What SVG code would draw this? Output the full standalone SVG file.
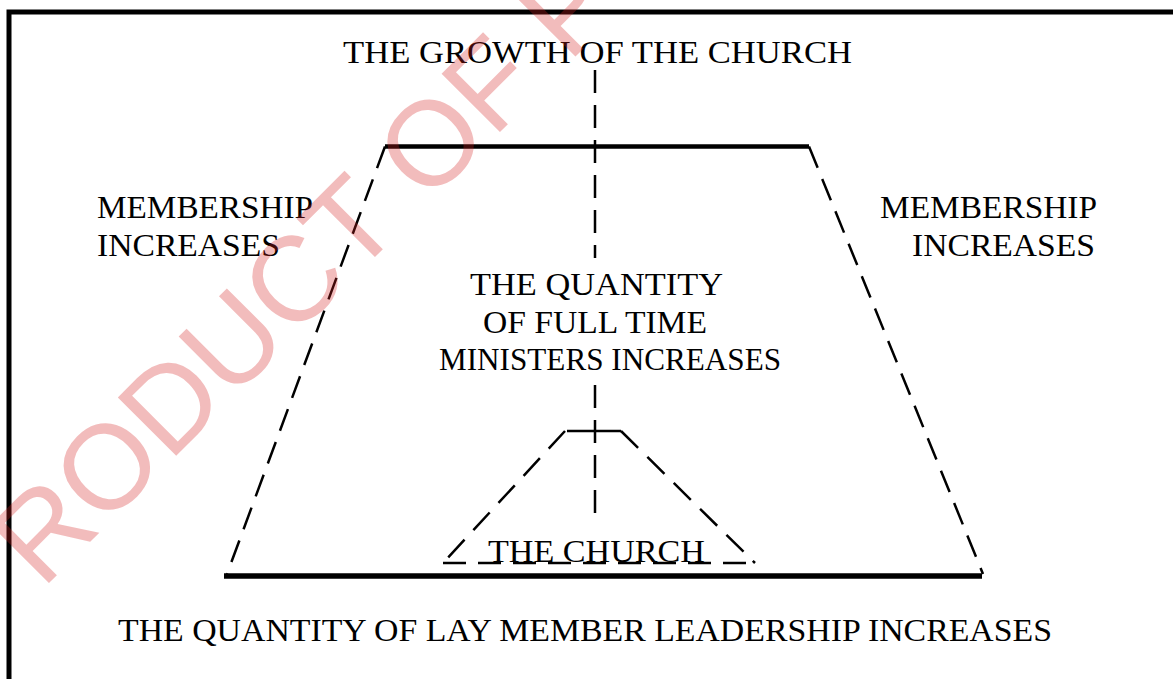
<svg xmlns="http://www.w3.org/2000/svg" width="1173" height="679" viewBox="0 0 1173 679">
<style>
.t{font-family:"Liberation Serif","Times New Roman",serif;font-size:32px;fill:#000}
.solid{stroke:#000;fill:none}
.dash{stroke:#000;stroke-width:2.5;fill:none;stroke-dasharray:23 12}
.wm{font-family:"Liberation Sans",Arial,sans-serif;font-size:120px;fill:#d42020;fill-opacity:0.3}
</style>
<rect width="1173" height="679" fill="#fff"/>
<g id="frame"><path class="solid" stroke-width="5" d="M9,679 V12 H1173"/></g>
<g id="connectors">
  <path class="dash" d="M595,70 V258"/>
  <path class="dash" d="M595,385 V515"/>
</g>
<g id="outer-trapezoid">
  <path class="solid" stroke-width="4.5" d="M385,146.5 H809"/>
  <path class="solid" stroke-width="5.5" d="M224,576 H982"/>
  <path class="dash" d="M385,146.5 L227,574"/>
  <path class="dash" d="M809,146.5 L983,574"/>
</g>
<g id="inner-trapezoid">
  <path class="solid" stroke-width="2.5" d="M567,431 H621"/>
  <path class="dash" style="stroke-dasharray:24 13" d="M565,431 L443,563"/>
  <path class="dash" style="stroke-dasharray:24 13" d="M621,431 L755,563"/>
  <path class="dash" d="M443,563 H756"/>
</g>
<g id="title"><text class="t" x="343" y="63" textLength="509" lengthAdjust="spacingAndGlyphs">THE GROWTH OF THE CHURCH</text></g>
<g id="membership-left">
  <text class="t" x="97" y="218" textLength="216" lengthAdjust="spacingAndGlyphs">MEMBERSHIP</text>
  <text class="t" x="97" y="256" textLength="183" lengthAdjust="spacingAndGlyphs">INCREASES</text>
</g>
<g id="membership-right">
  <text class="t" x="880" y="218" textLength="217" lengthAdjust="spacingAndGlyphs">MEMBERSHIP</text>
  <text class="t" x="912" y="256" textLength="183" lengthAdjust="spacingAndGlyphs">INCREASES</text>
</g>
<g id="ministers">
  <text class="t" x="470" y="295" textLength="253" lengthAdjust="spacingAndGlyphs">THE QUANTITY</text>
  <text class="t" x="483" y="333" textLength="224" lengthAdjust="spacingAndGlyphs">OF FULL TIME</text>
  <text class="t" x="439" y="370" textLength="342" lengthAdjust="spacingAndGlyphs">MINISTERS INCREASES</text>
</g>
<g id="church"><text class="t" x="488" y="562" textLength="217" lengthAdjust="spacingAndGlyphs">THE CHURCH</text></g>
<g id="lay-leadership"><text class="t" x="118" y="641" textLength="934" lengthAdjust="spacingAndGlyphs">THE QUANTITY OF LAY MEMBER LEADERSHIP INCREASES</text></g>
<g id="watermark"><text class="wm" transform="translate(42,590) rotate(-45)">RODUCT OF P</text></g>
</svg>
